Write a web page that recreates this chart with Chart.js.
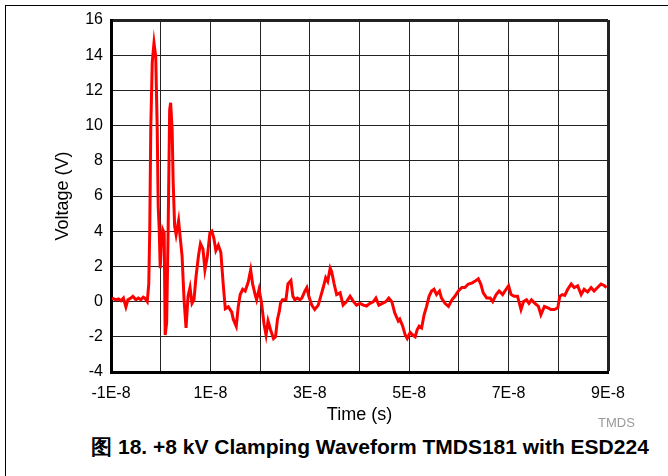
<!DOCTYPE html>
<html>
<head>
<meta charset="utf-8">
<script src="https://cdn.jsdelivr.net/npm/chart.js@4"></script>
<style>
  body { margin: 0; background: #fff; font-family: "Liberation Sans", Arial, sans-serif; }
  #frame { position: absolute; left: 5px; top: 5px; width: 700px; height: 500px; border-left: 1px solid #000; border-top: 1px solid #000; }
  #wrap { position: absolute; left: 0; top: 0; width: 640px; height: 430px; }
  #tag { position: absolute; left: 598px; top: 415px; font-size: 13px; line-height: 16px; color: #999; }
  #caption { position: absolute; left: 0; width: 740px; top: 434px; line-height: 26px; text-align: center; font-weight: bold; font-size: 21px; color: #000; }
</style>
</head>
<body>
<div id="frame"></div>
<div id="wrap"><canvas id="chart"></canvas></div>
<div id="tag">TMDS</div>
<div id="caption">图 18. +8 kV Clamping Waveform TMDS181 with ESD224</div>
<script>
// 時間 (ns) と電圧 (V) — 画像から読み取った値
let timeNs = [
  -9.8, -9, -8.5, -8, -7.5, -7, -6.6, -6, -5.6, -5, -4.5, -4, -3.5, -3.2, -2.7,
  -2.4, -2.2, -2.0, -1.7, -1.35, -1.0, -0.7, -0.5, -0.3, -0.1, 0.1, 0.4, 0.7, 0.9,
  1.2, 1.5, 1.8, 2.0, 2.3, 2.5, 2.8, 3.1, 3.6, 3.9, 4.3, 4.7, 5.1, 5.5, 5.9, 6.3,
  6.7, 7.1, 7.6, 8.0, 8.5, 8.9, 9.4, 9.9, 10.3, 10.7, 11.1, 11.6, 12.1, 12.6, 13.0,
  13.6, 14.3, 14.6, 15.2, 15.6, 16.0, 16.5, 17.0, 17.6, 18.1, 18.5, 19.0, 19.3, 19.8,
  20.3, 20.8, 21.2, 21.6, 22.1, 22.7, 23.1, 23.5, 23.9, 24.1, 24.5, 25.2, 25.6, 26.2,
  26.6, 27.0, 27.5, 28.0, 28.4, 29.0, 29.4, 29.8, 30.4, 31.0, 31.7, 32.3, 32.7, 33.2,
  33.6, 34.1, 34.4, 34.9, 35.4, 36.1, 36.7, 37.4, 38.1, 38.8, 39.4, 40.1, 40.8, 41.4,
  42.1, 42.8, 43.3, 43.9, 44.6, 45.3, 45.9, 46.5, 47.1, 47.8, 48.1, 48.7, 49.2, 49.6,
  50.2, 50.7, 51.2, 51.6, 52.0, 52.5, 53.0, 53.5, 54.0, 54.5, 55.0, 55.5, 56.1, 56.5,
  57.2, 57.9, 58.6, 59.2, 59.9, 60.6, 61.2, 61.9, 62.6, 63.2, 63.9, 64.4, 64.9, 65.6,
  66.3, 66.8, 67.5, 68.1, 68.8, 69.5, 70.0, 70.5, 71.1, 71.8, 72.5, 73.0, 73.6, 74.1,
  74.6, 75.3, 76.0, 76.5, 77.2, 77.9, 78.5, 79.2, 79.9, 80.3, 80.8, 81.3, 81.9, 82.6,
  83.2, 83.9, 84.6, 85.2, 85.9, 86.6, 87.2, 87.9, 88.6, 89.3, 89.7
];
let voltage = [
  0.2, 0.1, 0.15, 0.05, 0.2, -0.3, 0.1, 0.2, 0.3, 0.1, 0.2, 0.1, 0.25, 0.2, 0.0,
  1.0, 4.1, 9.8, 13.6, 14.7, 13.9, 9.8, 5.4, 4.1, 1.9, 3.1, 4.1, 3.9, -1.9,
  -1.2, 4.1, 10.9, 11.3, 9.8, 6.9, 4.3, 3.8, 4.6, 3.7, 2.6, 0.1, -1.5, 0.3, 0.8, -0.1,
  0.1, 1.4, 2.6, 3.3, 3.0, 1.8, 2.6, 3.9, 4.0, 3.6, 2.9, 3.2, 2.8, 0.9, -0.4,
  -0.3, -0.6, -1.0, -1.4, -0.3, 0.4, 0.7, 0.6, 1.1, 1.8, 1.0, 0.4, 0.1, 0.7,
  -0.1, -1.3, -1.9, -1.1, -1.6, -2.1, -2.0, -1.0, -0.5, -0.1, 0.1, 0.1, 1.0, 1.2,
  0.3, 0.1, 0.2, 0.1, 0.2, 0.6, 0.8, 0.3, -0.2, -0.45, -0.2, 0.4, 0.8, 1.35,
  1.15, 1.9, 1.7, 1.0, 0.4, 0.5, -0.2, 0.0, 0.3, 0.0, -0.2, -0.1, -0.2, -0.25,
  -0.1, 0.0, 0.2, -0.2, -0.1, 0.0, 0.2, 0.0, -0.65, -1.1, -1.0, -1.4, -1.9, -2.1,
  -1.75, -1.9, -2.0, -1.6, -1.4, -1.5, -0.75, -0.27, 0.3, 0.6, 0.7, 0.4, 0.6, 0.2,
  -0.1, -0.27, 0.1, 0.3, 0.6, 0.8, 0.8, 1.0, 1.05, 1.15, 1.3, 1.0, 0.5, 0.2,
  0.2, 0.0, 0.4, 0.6, 0.4, 0.7, 0.9, 0.4, 0.3, 0.3, -0.45, 0.0, 0.1, -0.1,
  0.1, -0.1, -0.27, -0.75, -0.27, -0.35, -0.45, -0.45, -0.35, 0.3, 0.4, 0.35, 0.7, 1.0,
  0.8, 0.9, 0.4, 0.7, 0.55, 0.8, 0.6, 0.8, 1.0, 0.9, 0.8
];
let xTicks = [-10, 10, 30, 50, 70, 90];
let yMin = -4, yMax = 16, yStep = 2;

let points = timeNs.map((t, i) => ({ x: t, y: voltage[i] }));

let ctx = document.getElementById('chart').getContext('2d');
let chart = new Chart(ctx, {
  type: 'line',
  data: {
    datasets: [{
      data: points,
      borderColor: '#ff0000',
      borderWidth: 3,
      pointRadius: 0,
      tension: 0
    }]
  },
  options: {
    responsive: true,
    maintainAspectRatio: false,
    animation: false,
    layout: { padding: { left: 48, right: 32, top: 20, bottom: 2 } },
    plugins: { legend: { display: false }, tooltip: { enabled: false } },
    scales: {
      x: {
        type: 'linear',
        min: -10, max: 90,
        afterFit: s => { s.height = 56; },
        ticks: {
          stepSize: 10,
          autoSkip: false,
          maxRotation: 0,
          padding: 12,
          color: '#000',
          font: { family: 'Liberation Sans', size: 16 },
          callback: v => xTicks.includes(v) ? (v / 10) + 'E-8' : ''
        },
        grid: {
          color: '#222',
          drawTicks: false,
          lineWidth: c => (c.tick && c.tick.value === 90) ? 3 : 1
        },
        border: { display: true, color: '#000', width: 3 },
        title: { display: true, text: 'Time (s)', color: '#000', font: { family: 'Liberation Sans', size: 18 }, padding: { top: 0, bottom: 2 } }
      },
      y: {
        min: yMin, max: yMax,
        afterFit: s => { s.width = 63; },
        ticks: {
          stepSize: yStep,
          padding: 8,
          color: '#000',
          font: { family: 'Liberation Sans', size: 16 }
        },
        grid: {
          color: '#222',
          drawTicks: false,
          lineWidth: c => (c.tick && c.tick.value === yMax) ? 3 : 1
        },
        border: { display: true, color: '#000', width: 3 },
        title: { display: true, text: 'Voltage (V)', color: '#000', font: { family: 'Liberation Sans', size: 18 } }
      }
    }
  }
});
</script>
</body>
</html>
